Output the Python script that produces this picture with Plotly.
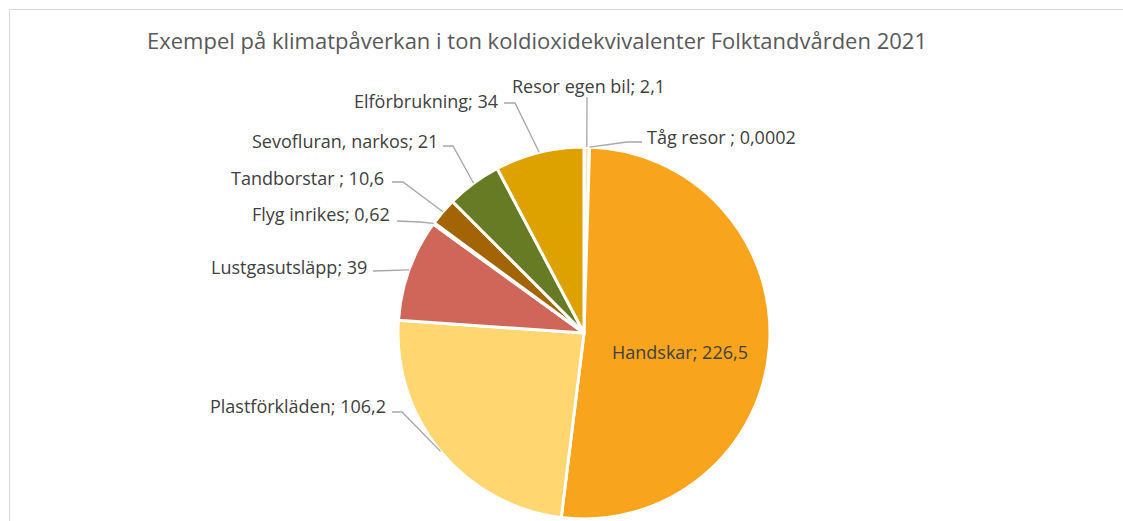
import math
import plotly.graph_objects as go

# ---- data ----
labels = ["Resor egen bil", "Tåg resor ", "Handskar", "Plastförkläden", "Lustgasutsläpp",
          "Flyg inrikes", "Tandborstar ", "Sevofluran, narkos", "Elförbrukning"]
values = [2.1, 0.0002, 226.5, 106.2, 39, 0.62, 10.6, 21, 34]
colors = ["#FCE3B4", "#F5C26B", "#F8A51D", "#FFD66F", "#D0655A",
          "#B8742A", "#A36405", "#677A24", "#DDA100"]
title_text = "Exempel på klimatpåverkan i ton koldioxidekvivalenter Folktandvården 2021"

# ---- layout geometry (pixels) ----
W, H = 1123, 521
CX, CY, R = 584, 333, 186
FONT = "Open Sans"

label_layout = {
    "Resor egen bil": dict(tx=588, ty=86, xa="center", pts=[(587, 97)]),
    "Tåg resor ": dict(tx=645, ty=137, xa="left", pts=[(627, 142), (642, 142)]),
    "Handskar": dict(tx=680, ty=352, xa="center", pts=None),
    "Plastförkläden": dict(tx=388, ty=406, xa="right", pts=[(402, 412), (392, 412)]),
    "Lustgasutsläpp": dict(tx=369, ty=267, xa="right", pts=[(373, 271)]),
    "Flyg inrikes": dict(tx=392, ty=214, xa="right", pts=[(420, 222), (397, 221)]),
    "Tandborstar ": dict(tx=386, ty=178, xa="right", pts=[(403, 182), (392, 182)]),
    "Sevofluran, narkos": dict(tx=440, ty=141, xa="right", pts=[(453, 146), (443, 146)]),
    "Elförbrukning": dict(tx=500, ty=101, xa="right", pts=[(515, 103), (504, 103)]),
}


def px(x):
    return x / W


def py(y):
    return 1 - y / H


def fmt(v):
    return f"{v:g}".replace(".", ",")


fig = go.Figure(go.Pie(
    labels=labels,
    values=values,
    sort=False,
    direction="clockwise",
    rotation=0,
    marker=dict(colors=colors, line=dict(color="white", width=3)),
    textinfo="none",
    domain=dict(x=[px(CX - R), px(CX + R)], y=[py(CY + R), py(CY - R)]),
    showlegend=False,
    hovertemplate="%{label}: %{value}<extra></extra>",
))

total = sum(values)
start = 0.0
annotations = []
shapes = []
for lab, v in zip(labels, values):
    span = v / total * 360.0
    mid = math.radians(start + span / 2)
    start += span
    ex = CX + R * math.sin(mid)
    ey = CY - R * math.cos(mid)
    cfg = label_layout[lab]
    annotations.append(dict(
        text=f"{lab}; {fmt(v)}", x=px(cfg["tx"]), y=py(cfg["ty"]),
        xref="paper", yref="paper", xanchor=cfg["xa"], yanchor="middle",
        showarrow=False, font=dict(family=FONT, size=18, color="#404040"),
    ))
    if cfg["pts"]:
        path = f"M {px(ex)},{py(ey)}"
        for (x, y) in cfg["pts"]:
            path += f" L {px(x)},{py(y)}"
        shapes.append(dict(type="path", path=path, xref="paper", yref="paper",
                           line=dict(color="#A6A6A6", width=1.3)))

# chart-area border (top and left)
shapes.append(dict(type="line", xref="paper", yref="paper",
                   x0=px(9.5), x1=px(W + 5), y0=py(9.5), y1=py(9.5),
                   line=dict(color="#D9D9D9", width=1)))
shapes.append(dict(type="line", xref="paper", yref="paper",
                   x0=px(9.5), x1=px(9.5), y0=py(9.5), y1=py(H + 5),
                   line=dict(color="#D9D9D9", width=1)))

fig.update_layout(
    width=W, height=H,
    margin=dict(l=0, r=0, t=0, b=0),
    paper_bgcolor="white", plot_bgcolor="white",
    title=dict(text=title_text, x=px(537), y=py(41), xref="paper", yref="paper",
               xanchor="center", yanchor="middle",
               font=dict(family=FONT, size=22, color="#595959")),
    annotations=annotations,
    shapes=shapes,
)

fig.write_html(
    "out.html",
    config={"displayModeBar": False},
    post_script="document.body.style.margin='0';document.body.style.overflow='hidden';",
)
